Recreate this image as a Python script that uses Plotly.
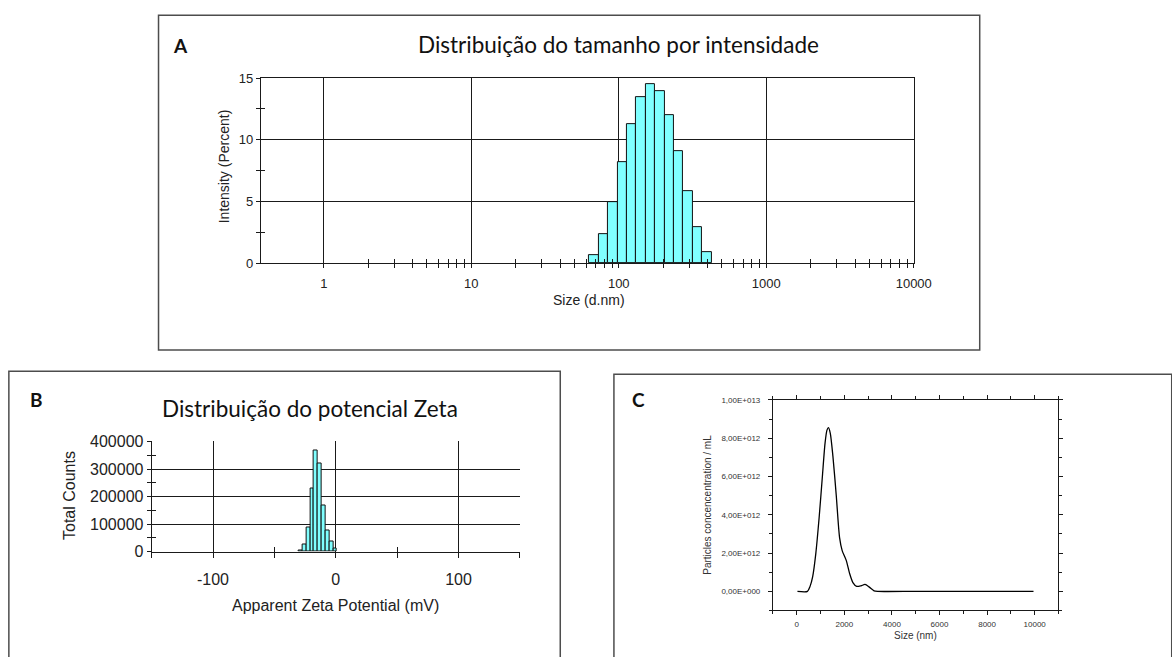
import math
import plotly.graph_objects as go

# ---------------- DATA ----------------
# Panel A: intensity size distribution (Malvern size classes, d.nm)
A_size = [68.06, 78.82, 91.28, 105.7, 122.4, 141.8, 164.2, 190.1, 220.2, 255.0, 295.3, 342.0, 396.1]
A_intensity = [0.63, 2.32, 4.93, 8.2, 11.26, 13.47, 14.5, 13.92, 11.97, 9.12, 5.88, 2.95, 0.9]
A_class_ratio = 1.1581  # ratio between neighbouring size classes
A_xticks = [1, 10, 100, 1000, 10000]
A_xticklabels = ["1", "10", "100", "1000", "10000"]
A_yticks = [0, 5, 10, 15]

# Panel B: zeta potential distribution
B_zeta = [-28.6, -25.5, -22.4, -19.3, -16.1, -13.0, -9.9, -6.7, -3.6, -0.5]
B_counts = [4000, 27000, 86000, 228000, 366000, 321000, 166000, 77000, 37000, 9500]
B_bin_width = 3.13
B_xticks = [-100, 0, 100]
B_xticklabels = ["-100", "0", "100"]
B_yticks = [0, 100000, 200000, 300000, 400000]
B_yticklabels = ["0", "100000", "200000", "300000", "400000"]

# Panel C: NTA particle concentration
C_size = [30, 450, 560, 670, 800, 940, 1080, 1190, 1270, 1335, 1410, 1520, 1660, 1800,
          1910, 2080, 2220, 2360, 2520, 2700, 2870, 3050, 3250, 3400, 5000, 7000, 9950]
C_conc = [0, 0, 0.26e12, 0.77e12, 1.96e12, 3.83e12, 6.04e12, 7.74e12, 8.42e12, 8.55e12,
          8.25e12, 7.06e12, 5.02e12, 2.81e12, 2.13e12, 1.62e12, 0.94e12, 0.46e12, 0.26e12,
          0.29e12, 0.36e12, 0.22e12, 0.03e12, 0, 0, 0, 0]
C_xticks = [0, 2000, 4000, 6000, 8000, 10000]
C_xticklabels = ["0", "2000", "4000", "6000", "8000", "10000"]
C_yticks = [0, 2e12, 4e12, 6e12, 8e12, 1e13]
C_yticklabels = ["0,00E+000", "2,00E+012", "4,00E+012", "6,00E+012", "8,00E+012", "1,00E+013"]

# ---------------- FIGURE ----------------
W, H = 1172, 657
def px(x):
    return x / W
def py(y):
    return 1 - y / H

CYAN = "#80FFFF"
ARIAL = "Liberation Sans, Arial, sans-serif"
TITLEF = "Lato, Open Sans, sans-serif"

fig = go.Figure()

# A bars (edges from class ratio; plotly bar width in linear units on log axis)
sq = math.sqrt(A_class_ratio)
A_lo = [s / sq for s in A_size]
A_hi = [s * sq for s in A_size]
A_ctr = [(l + h) / 2 for l, h in zip(A_lo, A_hi)]
A_w = [h - l for l, h in zip(A_lo, A_hi)]
fig.add_trace(go.Bar(x=A_ctr, y=A_intensity, width=A_w, xaxis="x", yaxis="y",
                     marker=dict(color=CYAN, line=dict(color="#111111", width=1)),
                     showlegend=False, hoverinfo="skip"))
fig.add_trace(go.Scatter(x=[None], y=[None], xaxis="x4", yaxis="y4", showlegend=False))

# B bars
fig.add_trace(go.Bar(x=B_zeta, y=B_counts, width=B_bin_width, xaxis="x2", yaxis="y2",
                     marker=dict(color=CYAN, line=dict(color="#111111", width=1)),
                     showlegend=False, hoverinfo="skip"))
fig.add_trace(go.Scatter(x=[None], y=[None], xaxis="x5", yaxis="y5", showlegend=False))

# C line
fig.add_trace(go.Scatter(x=C_size, y=C_conc, xaxis="x3", yaxis="y3", mode="lines",
                         line=dict(color="black", width=1.3, shape="spline", smoothing=0.7),
                         showlegend=False, hoverinfo="skip"))

A_minor_x = [m * d for d in [1, 10, 100, 1000] for m in range(2, 10)]
A_minor_y = [2.5, 7.5, 12.5]
A_xrange = [math.log10(0.375), 4.0]
B_minor_x = [-150, -50, 50, 150]
B_minor_y = [50000, 150000, 250000, 350000]

axis_common = dict(showline=True, linecolor="#1a1a1a", linewidth=1, zeroline=False,
                   tickcolor="#1a1a1a", tickwidth=1)

fig.update_layout(
    width=W, height=H, margin=dict(l=0, r=0, t=0, b=0), autosize=False,
    paper_bgcolor="white", plot_bgcolor="white", bargap=0, showlegend=False,
    # ---- A ----
    xaxis=dict(domain=[px(265), px(928)], anchor="y", type="log", range=A_xrange,
               tickmode="array", tickvals=A_xticks, ticktext=A_xticklabels,
               ticks="outside", ticklen=4, mirror=True,
               showgrid=True, gridcolor="#1a1a1a", gridwidth=1,
               minor=dict(tickvals=A_minor_x, ticks="outside", ticklen=4,
                          tickcolor="#1a1a1a", showgrid=False),
               tickfont=dict(family=ARIAL, size=13, color="#222"),
               ticklabelstandoff=4, **axis_common),
    yaxis=dict(domain=[py(262), py(72)], anchor="x", range=[0, 15],
               tickmode="array", tickvals=A_yticks, ticks="outside", ticklen=4, mirror=True,
               showgrid=True, gridcolor="#1a1a1a", gridwidth=1,
               minor=dict(tickvals=A_minor_y, ticks="outside", ticklen=4,
                          tickcolor="#1a1a1a", showgrid=False),
               tickfont=dict(family=ARIAL, size=13, color="#222"),
               ticklabelstandoff=0, **axis_common),
    xaxis4=dict(overlaying="x", anchor="y4", type="log", range=A_xrange,
                tickmode="array", tickvals=A_minor_x, ticks="inside", ticklen=4,
                tickcolor="#1a1a1a", showticklabels=False, showgrid=False,
                showline=False, zeroline=False),
    yaxis4=dict(overlaying="y", anchor="x4", range=[0, 15],
                tickmode="array", tickvals=A_minor_y, ticks="inside", ticklen=4,
                tickcolor="#1a1a1a", showticklabels=False, showgrid=False,
                showline=False, zeroline=False),
    # ---- B ----
    xaxis2=dict(domain=[px(154), px(528)], anchor="y2", range=[-150, 150],
                tickmode="array", tickvals=B_xticks, ticktext=B_xticklabels,
                ticks="outside", ticklen=5,
                showgrid=True, gridcolor="#1a1a1a", gridwidth=1.2,
                minor=dict(tickvals=B_minor_x, ticks="outside", ticklen=5,
                           tickcolor="#1a1a1a", showgrid=False),
                tickfont=dict(family=ARIAL, size=16, color="#222"),
                ticklabelstandoff=8, **axis_common),
    yaxis2=dict(domain=[py(558), py(445)], anchor="x2", range=[0, 400000],
                tickmode="array", tickvals=B_yticks, ticktext=B_yticklabels,
                ticks="outside", ticklen=4,
                showgrid=True, gridcolor="#1a1a1a", gridwidth=1.2,
                minor=dict(tickvals=B_minor_y, ticks="outside", ticklen=4,
                           tickcolor="#1a1a1a", showgrid=False),
                tickfont=dict(family=ARIAL, size=16, color="#222"),
                ticklabelstandoff=0, **axis_common),
    xaxis5=dict(overlaying="x2", anchor="y5", range=[-150, 150],
                tickmode="array", tickvals=B_minor_x, ticks="inside", ticklen=5,
                tickcolor="#1a1a1a", showticklabels=False, showgrid=False,
                showline=False, zeroline=False),
    yaxis5=dict(overlaying="y2", anchor="x5", range=[0, 400000],
                tickmode="array", tickvals=B_minor_y, ticks="inside", ticklen=4,
                tickcolor="#1a1a1a", showticklabels=False, showgrid=False,
                showline=False, zeroline=False),
    # ---- C ----
    xaxis3=dict(domain=[px(785), px(1075)], anchor="y3", range=[-1000, 11000],
                tickmode="array", tickvals=C_xticks, ticktext=C_xticklabels,
                ticks="outside", ticklen=4,
                mirror="allticks", showgrid=False,
                minor=dict(tickvals=[-1000, 1000, 3000, 5000, 7000, 9000, 11000],
                           ticks="outside", ticklen=2.5, tickcolor="#1a1a1a", showgrid=False),
                tickfont=dict(family=ARIAL, size=8, color="#333"),
                ticklabelstandoff=2, **axis_common),
    yaxis3=dict(domain=[py(618.5), py(402.3)], anchor="x3", range=[-1e12, 1e13],
                tickmode="array", tickvals=C_yticks, ticktext=C_yticklabels,
                ticks="outside", ticklen=4, mirror="allticks", showgrid=False,
                minor=dict(tickvals=[-1e12, 1e12, 3e12, 5e12, 7e12, 9e12],
                           ticks="outside", ticklen=2.5, tickcolor="#1a1a1a", showgrid=False),
                tickfont=dict(family=ARIAL, size=8, color="#333"),
                ticklabelstandoff=6, **axis_common),
)

# ---- panel boxes ----
box_line = dict(color="#4d4d4d", width=1.5)
fig.add_shape(type="rect", xref="paper", yref="paper",
              x0=px(161), x1=px(995), y0=py(351), y1=py(7.5), line=box_line)
fig.add_shape(type="rect", xref="paper", yref="paper",
              x0=px(9), x1=px(569), y0=py(680), y1=py(373), line=box_line)
fig.add_shape(type="rect", xref="paper", yref="paper",
              x0=px(623.5), x1=px(1190), y0=py(680), y1=py(376), line=box_line)

def ann(text, x, y, size, family, color="#111", bold=False, angle=0):
    fig.add_annotation(text=("<b>%s</b>" % text) if bold else text,
                       xref="paper", yref="paper", x=px(x), y=py(y),
                       xanchor="center", yanchor="middle", showarrow=False,
                       textangle=angle, font=dict(size=size, family=family, color=color))

# Panel A texts
ann("A", 183, 38, 19, TITLEF, bold=True)
ann("Distribuição do tamanho por intensidade", 628, 37, 22.5, TITLEF)
ann("Intensity (Percent)", 227, 163, 14, ARIAL, color="#222", angle=-90)
ann("Size (d.nm)", 598, 300, 14, ARIAL, color="#222")

# Panel B texts
ann("B", 37, 402, 19, TITLEF, bold=True)
ann("Distribuição do potencial Zeta", 315, 411, 22.5, TITLEF)
ann("Total Counts", 70, 500, 16, ARIAL, color="#222", angle=-90)
ann("Apparent Zeta Potential (mV)", 341, 613, 16, ARIAL, color="#222")

# Panel C texts
ann("C", 648, 402, 19, TITLEF, bold=True)
ann("Particles concencentration / mL", 719, 510, 10, ARIAL, color="#333", angle=-90)
ann("Size (nm)", 930, 644, 10, ARIAL, color="#333")

fig.write_html(
    "out.html",
    config={"responsive": False},
    post_script="document.body.style.margin='0';document.body.style.padding='0';"
                "document.documentElement.style.overflow='hidden';",
)
